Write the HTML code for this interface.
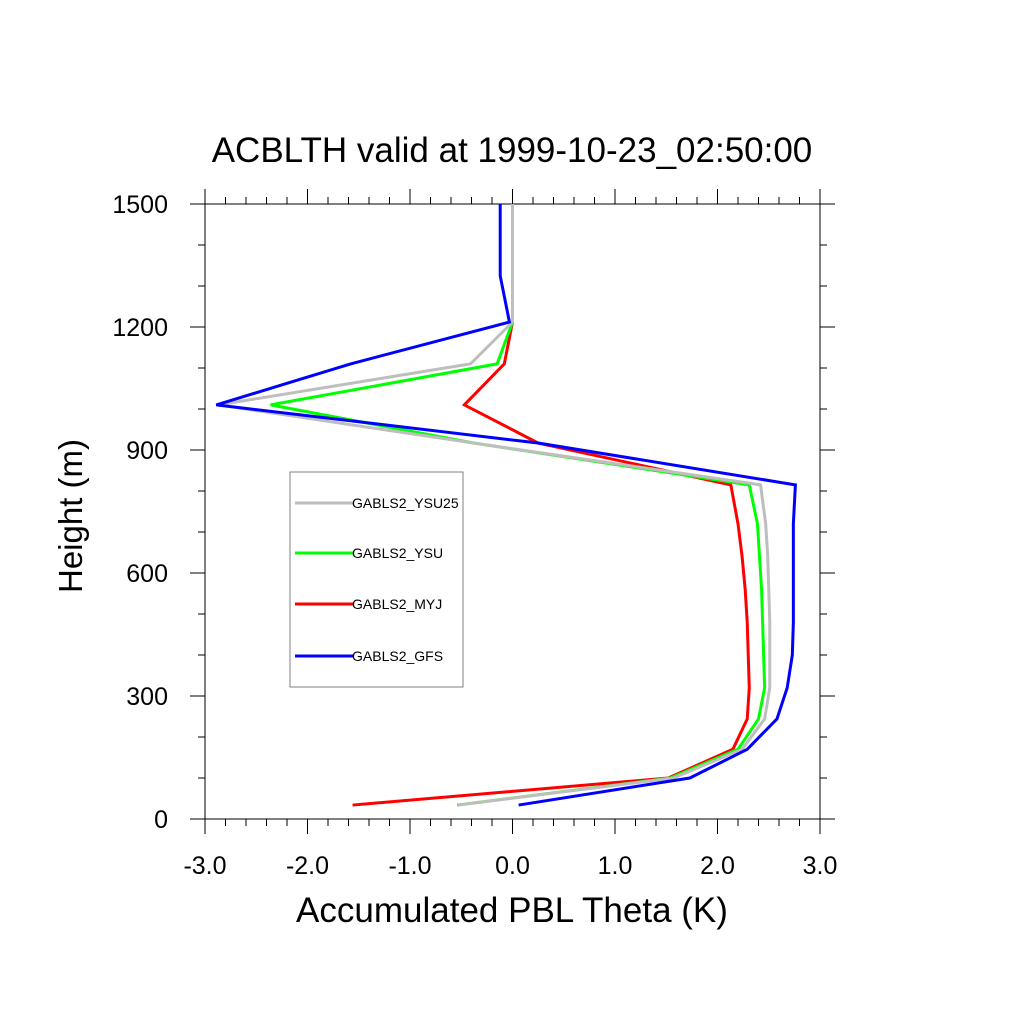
<!DOCTYPE html>
<html><head><meta charset="utf-8"><style>
body{margin:0;background:#fff}
svg text{font-family:"Liberation Sans",sans-serif;fill:#000}
</style></head><body>
<svg width="1024" height="1024" viewBox="0 0 1024 1024" xmlns="http://www.w3.org/2000/svg">
<rect x="0" y="0" width="1024" height="1024" fill="#fff"/>
<text x="512" y="162" font-size="35" text-anchor="middle">ACBLTH valid at 1999-10-23_02:50:00</text>
<g id="axes"></g>
<g id="series"></g>
<text x="512" y="922" font-size="35" text-anchor="middle">Accumulated PBL Theta (K)</text>
<text transform="translate(82,516) rotate(-90)" font-size="33" text-anchor="middle">Height (m)</text>
<g id="legend"></g>
</svg>
<script>
const heights=[34,100,170,244,320,400,480,560,640,720,815,917,1010,1110,1212,1325,1500];
const ysu25=[-0.53,1.57,2.24,2.46,2.51,2.51,2.51,2.50,2.49,2.47,2.42,-0.38,-2.87,-0.41,0,0,0];
const ysu=[-0.54,1.54,2.20,2.40,2.46,2.45,2.44,2.43,2.41,2.39,2.31,-0.38,-2.36,-0.15,0,0,0];
const myj=[-1.56,1.52,2.15,2.29,2.31,2.30,2.29,2.27,2.24,2.20,2.13,0.25,-0.47,-0.08,0,0,0];
const gfs=[0.06,1.73,2.29,2.58,2.68,2.73,2.74,2.74,2.74,2.74,2.76,0.25,-2.89,-1.58,-0.03,-0.12,-0.12];
const xTicks=[-3,-2,-1,0,1,2,3];
const xTickLabels=["-3.0","-2.0","-1.0","0.0","1.0","2.0","3.0"];
const yTicks=[0,300,600,900,1200,1500];
const seriesNames=["GABLS2_YSU25","GABLS2_YSU","GABLS2_MYJ","GABLS2_GFS"];
const seriesColors=["#bebebe","#00ff00","#ff0000","#0000ff"];

const X0=205,X1=820,Y0=819,Y1=204;
const sx=v=>X0+(v+3)/6*(X1-X0);
const sy=v=>Y0-v/1500*(Y0-Y1);
const NS="http://www.w3.org/2000/svg";
function mk(tag,attrs,parent){const e=document.createElementNS(NS,tag);for(const k in attrs)e.setAttribute(k,attrs[k]);parent.appendChild(e);return e;}
const ax=document.getElementById('axes');
const frame=mk('rect',{x:X0,y:Y1,width:X1-X0,height:Y0-Y1,fill:'none',stroke:'#000','stroke-width':1},ax);


let tp='';
for(let i=0;i<=30;i++){const v=-3+i*0.2;const x=sx(v);const L=(i%5===0)?15:7;tp+=`M${x},${Y0}v${L}M${x},${Y1}v${-L}`;}
for(let i=0;i<=15;i++){const v=i*100;const y=sy(v);const L=(i%3===0)?15:7;tp+=`M${X0},${y}h${-L}M${X1},${y}h${L}`;}
const ticks=mk('path',{d:tp,stroke:'#000','stroke-width':1,fill:'none'},ax);


xTicks.forEach((v,i)=>{const t=mk('text',{x:sx(v),y:Y0+55,'font-size':25,'text-anchor':'middle'},ax);t.textContent=xTickLabels[i];

});
yTicks.forEach(v=>{const t=mk('text',{x:168,y:sy(v)+9,'font-size':25,'text-anchor':'end'},ax);t.textContent=String(v);

});
const sg=document.getElementById('series');
const order=[2,1,0,3];
const allData=[ysu25,ysu,myj,gfs];
order.forEach(i=>{
 const arr=allData[i];
 const pts=arr.map((v,j)=>sx(v)+','+sy(heights[j])).join(' ');
 const p=mk('polyline',{points:pts,fill:'none',stroke:seriesColors[i],'stroke-width':3,'stroke-linejoin':'miter'},sg);
 
 
});
const lg=document.getElementById('legend');
const box=mk('rect',{x:290,y:472,width:173,height:215,fill:'#fff',stroke:'#808080','stroke-width':1},lg);


const ly=[503,553,604,656];
seriesNames.forEach((n,i)=>{
 const l=mk('line',{x1:295,x2:353,y1:ly[i],y2:ly[i],stroke:seriesColors[i],'stroke-width':3},lg);
 
 
 const t=mk('text',{x:352,y:ly[i]+5,'font-size':14},lg);t.textContent=n;
 
 
});
</script>
</body></html>
